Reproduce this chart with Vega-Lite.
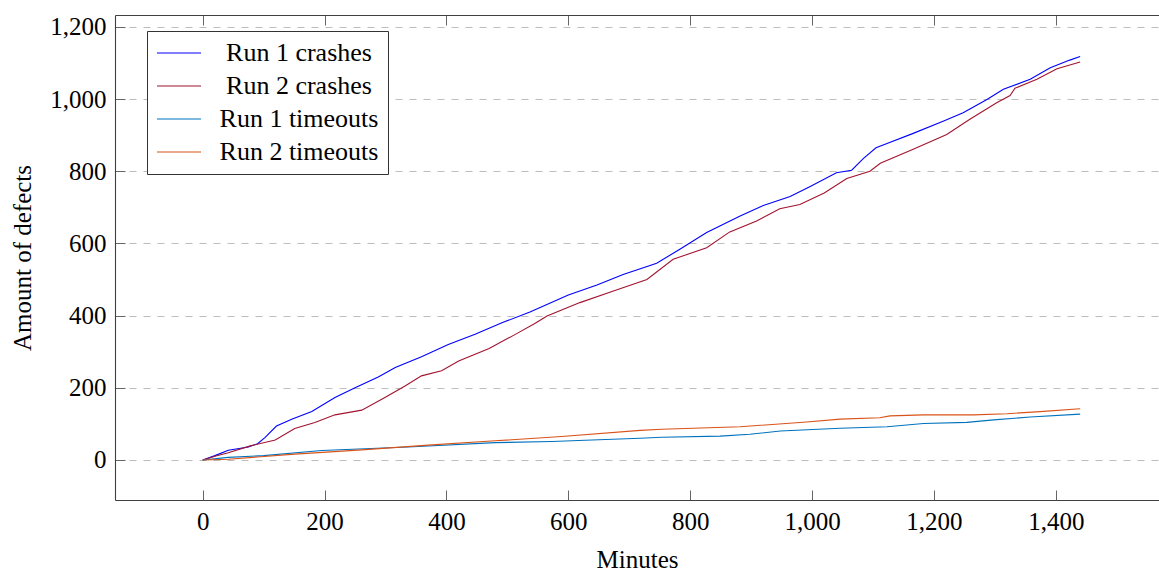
{
  "$schema": "https://vega.github.io/schema/vega-lite/v6.json",
  "width": 1044,
  "height": 485,
  "autosize": {"type": "none"},
  "padding": {"left": 115, "top": 15, "right": 0, "bottom": 72},
  "background": "white",
  "config": {"view": {"stroke": null}, "font": "Liberation Serif"},
  "data": {
    "values": [
      {"series":"Run 1 crashes","minute":0,"defects":0},
      {"series":"Run 1 crashes","minute":20,"defects":12},
      {"series":"Run 1 crashes","minute":42,"defects":27},
      {"series":"Run 1 crashes","minute":75,"defects":36},
      {"series":"Run 1 crashes","minute":90,"defects":45},
      {"series":"Run 1 crashes","minute":102,"defects":62},
      {"series":"Run 1 crashes","minute":121,"defects":94},
      {"series":"Run 1 crashes","minute":146,"defects":113},
      {"series":"Run 1 crashes","minute":179,"defects":134},
      {"series":"Run 1 crashes","minute":217,"defects":173},
      {"series":"Run 1 crashes","minute":250,"defects":200},
      {"series":"Run 1 crashes","minute":288,"defects":230},
      {"series":"Run 1 crashes","minute":316,"defects":256},
      {"series":"Run 1 crashes","minute":359,"defects":286},
      {"series":"Run 1 crashes","minute":403,"defects":320},
      {"series":"Run 1 crashes","minute":447,"defects":348},
      {"series":"Run 1 crashes","minute":491,"defects":380},
      {"series":"Run 1 crashes","minute":537,"defects":410},
      {"series":"Run 1 crashes","minute":600,"defects":457},
      {"series":"Run 1 crashes","minute":647,"defects":485},
      {"series":"Run 1 crashes","minute":690,"defects":514},
      {"series":"Run 1 crashes","minute":745,"defects":545},
      {"series":"Run 1 crashes","minute":783,"defects":584},
      {"series":"Run 1 crashes","minute":827,"defects":630},
      {"series":"Run 1 crashes","minute":882,"defects":676},
      {"series":"Run 1 crashes","minute":920,"defects":705},
      {"series":"Run 1 crashes","minute":964,"defects":730},
      {"series":"Run 1 crashes","minute":997,"defects":758},
      {"series":"Run 1 crashes","minute":1040,"defects":796},
      {"series":"Run 1 crashes","minute":1065,"defects":803},
      {"series":"Run 1 crashes","minute":1084,"defects":835},
      {"series":"Run 1 crashes","minute":1105,"defects":865},
      {"series":"Run 1 crashes","minute":1123,"defects":877},
      {"series":"Run 1 crashes","minute":1166,"defects":905},
      {"series":"Run 1 crashes","minute":1216,"defects":939},
      {"series":"Run 1 crashes","minute":1248,"defects":962},
      {"series":"Run 1 crashes","minute":1287,"defects":999},
      {"series":"Run 1 crashes","minute":1314,"defects":1027},
      {"series":"Run 1 crashes","minute":1358,"defects":1055},
      {"series":"Run 1 crashes","minute":1391,"defects":1087},
      {"series":"Run 1 crashes","minute":1423,"defects":1108},
      {"series":"Run 1 crashes","minute":1440,"defects":1118},

      {"series":"Run 2 crashes","minute":0,"defects":0},
      {"series":"Run 2 crashes","minute":20,"defects":10},
      {"series":"Run 2 crashes","minute":42,"defects":20},
      {"series":"Run 2 crashes","minute":78,"defects":39},
      {"series":"Run 2 crashes","minute":119,"defects":55},
      {"series":"Run 2 crashes","minute":151,"defects":87},
      {"series":"Run 2 crashes","minute":184,"defects":104},
      {"series":"Run 2 crashes","minute":217,"defects":125},
      {"series":"Run 2 crashes","minute":261,"defects":138},
      {"series":"Run 2 crashes","minute":299,"defects":173},
      {"series":"Run 2 crashes","minute":332,"defects":205},
      {"series":"Run 2 crashes","minute":359,"defects":233},
      {"series":"Run 2 crashes","minute":392,"defects":247},
      {"series":"Run 2 crashes","minute":420,"defects":274},
      {"series":"Run 2 crashes","minute":470,"defects":309},
      {"series":"Run 2 crashes","minute":513,"defects":348},
      {"series":"Run 2 crashes","minute":545,"defects":378},
      {"series":"Run 2 crashes","minute":565,"defects":399},
      {"series":"Run 2 crashes","minute":619,"defects":436},
      {"series":"Run 2 crashes","minute":674,"defects":468},
      {"series":"Run 2 crashes","minute":729,"defects":500},
      {"series":"Run 2 crashes","minute":772,"defects":556},
      {"series":"Run 2 crashes","minute":827,"defects":588},
      {"series":"Run 2 crashes","minute":865,"defects":632},
      {"series":"Run 2 crashes","minute":909,"defects":662},
      {"series":"Run 2 crashes","minute":947,"defects":696},
      {"series":"Run 2 crashes","minute":980,"defects":708},
      {"series":"Run 2 crashes","minute":1020,"defects":740},
      {"series":"Run 2 crashes","minute":1057,"defects":780},
      {"series":"Run 2 crashes","minute":1095,"defects":800},
      {"series":"Run 2 crashes","minute":1112,"defects":822},
      {"series":"Run 2 crashes","minute":1166,"defects":861},
      {"series":"Run 2 crashes","minute":1221,"defects":902},
      {"series":"Run 2 crashes","minute":1259,"defects":944},
      {"series":"Run 2 crashes","minute":1303,"defects":990},
      {"series":"Run 2 crashes","minute":1325,"defects":1010},
      {"series":"Run 2 crashes","minute":1333,"defects":1030},
      {"series":"Run 2 crashes","minute":1369,"defects":1055},
      {"series":"Run 2 crashes","minute":1402,"defects":1084},
      {"series":"Run 2 crashes","minute":1440,"defects":1103},

      {"series":"Run 1 timeouts","minute":0,"defects":0},
      {"series":"Run 1 timeouts","minute":42,"defects":7},
      {"series":"Run 1 timeouts","minute":100,"defects":12},
      {"series":"Run 1 timeouts","minute":195,"defects":26},
      {"series":"Run 1 timeouts","minute":337,"defects":36},
      {"series":"Run 1 timeouts","minute":480,"defects":48},
      {"series":"Run 1 timeouts","minute":573,"defects":51},
      {"series":"Run 1 timeouts","minute":650,"defects":56},
      {"series":"Run 1 timeouts","minute":718,"defects":60},
      {"series":"Run 1 timeouts","minute":753,"defects":63},
      {"series":"Run 1 timeouts","minute":849,"defects":66},
      {"series":"Run 1 timeouts","minute":898,"defects":71},
      {"series":"Run 1 timeouts","minute":948,"defects":80},
      {"series":"Run 1 timeouts","minute":1046,"defects":88},
      {"series":"Run 1 timeouts","minute":1123,"defects":92},
      {"series":"Run 1 timeouts","minute":1183,"defects":101},
      {"series":"Run 1 timeouts","minute":1254,"defects":104},
      {"series":"Run 1 timeouts","minute":1298,"defects":111},
      {"series":"Run 1 timeouts","minute":1358,"defects":119},
      {"series":"Run 1 timeouts","minute":1440,"defects":127},

      {"series":"Run 2 timeouts","minute":0,"defects":0},
      {"series":"Run 2 timeouts","minute":42,"defects":2},
      {"series":"Run 2 timeouts","minute":151,"defects":16},
      {"series":"Run 2 timeouts","minute":261,"defects":28},
      {"series":"Run 2 timeouts","minute":370,"defects":41},
      {"series":"Run 2 timeouts","minute":480,"defects":53},
      {"series":"Run 2 timeouts","minute":589,"defects":65},
      {"series":"Run 2 timeouts","minute":718,"defects":82},
      {"series":"Run 2 timeouts","minute":753,"defects":85},
      {"series":"Run 2 timeouts","minute":882,"defects":92},
      {"series":"Run 2 timeouts","minute":991,"defects":105},
      {"series":"Run 2 timeouts","minute":1046,"defects":113},
      {"series":"Run 2 timeouts","minute":1111,"defects":117},
      {"series":"Run 2 timeouts","minute":1128,"defects":122},
      {"series":"Run 2 timeouts","minute":1183,"defects":125},
      {"series":"Run 2 timeouts","minute":1265,"defects":125},
      {"series":"Run 2 timeouts","minute":1320,"defects":128},
      {"series":"Run 2 timeouts","minute":1374,"defects":134},
      {"series":"Run 2 timeouts","minute":1440,"defects":142}
    ]
  },
  "layer": [
    {
      "mark": {"type": "line", "strokeWidth": 1.1, "clip": true},
      "encoding": {
        "x": {
          "field": "minute", "type": "quantitative",
          "scale": {"domain": [-144, 1569.4], "nice": false, "zero": false},
          "axis": {
            "title": "Minutes", "values": [0,200,400,600,800,1000,1200,1400], "format": ",d",
            "grid": false, "domainColor": "#404040", "domainWidth": 1.1, "tickColor": "#666", "tickSize": -10,
            "labelPadding": 19, "labelFontSize": 25, "labelFont": "Liberation Serif", "labelColor": "black",
            "labelFlush": false, "titleFontSize": 25, "titleFont": "Liberation Serif", "titleFontWeight": "normal",
            "titleColor": "black", "titlePadding": 13
          }
        },
        "y": {
          "field": "defects", "type": "quantitative",
          "scale": {"domain": [-111, 1233], "nice": false, "zero": false},
          "axis": {
            "title": "Amount of defects", "values": [0,200,400,600,800,1000,1200], "format": ",d",
            "grid": true, "gridDash": [7,7], "gridColor": "#bdbdbd", "gridWidth": 1,
            "domainColor": "#404040", "domainWidth": 1.1, "tickColor": "#666", "tickSize": -10,
            "labelPadding": 19, "labelFontSize": 25, "labelFont": "Liberation Serif", "labelColor": "black",
            "labelFlush": false, "titleFontSize": 25, "titleFont": "Liberation Serif", "titleFontWeight": "normal",
            "titleColor": "black", "titlePadding": 14
          }
        },
        "color": {
          "field": "series", "type": "nominal",
          "scale": {
            "domain": ["Run 1 crashes","Run 2 crashes","Run 1 timeouts","Run 2 timeouts"],
            "range": ["#0000ff","#A2142F","#0072BD","#D95319"]
          },
          "legend": {
            "title": null, "orient": "none", "legendX": 32, "legendY": 16,
            "symbolType": "stroke", "symbolSize": 1936, "symbolStrokeWidth": 1.2,
            "clipHeight": 26,
            "labelFontSize": 26, "labelFont": "Liberation Serif", "labelColor": "black",
            "labelAlign": "center", "labelOffset": 97,
            "strokeColor": "#333", "fillColor": "white", "padding": 9, "rowPadding": 7
          }
        }
      }
    },
    {
      "mark": {"type": "point", "opacity": 0},
      "encoding": {
        "x": {
          "field": "minute", "type": "quantitative",
          "scale": {"domain": [-144, 1569.4], "nice": false, "zero": false},
          "axis": {
            "orient": "top", "title": null, "values": [0,200,400,600,800,1000,1200,1400],
            "labels": false, "grid": false, "domainColor": "#404040", "domainWidth": 1.1,
            "tickColor": "#666", "tickSize": -10
          }
        }
      }
    }
  ],
  "resolve": {"axis": {"x": "independent"}}
}
